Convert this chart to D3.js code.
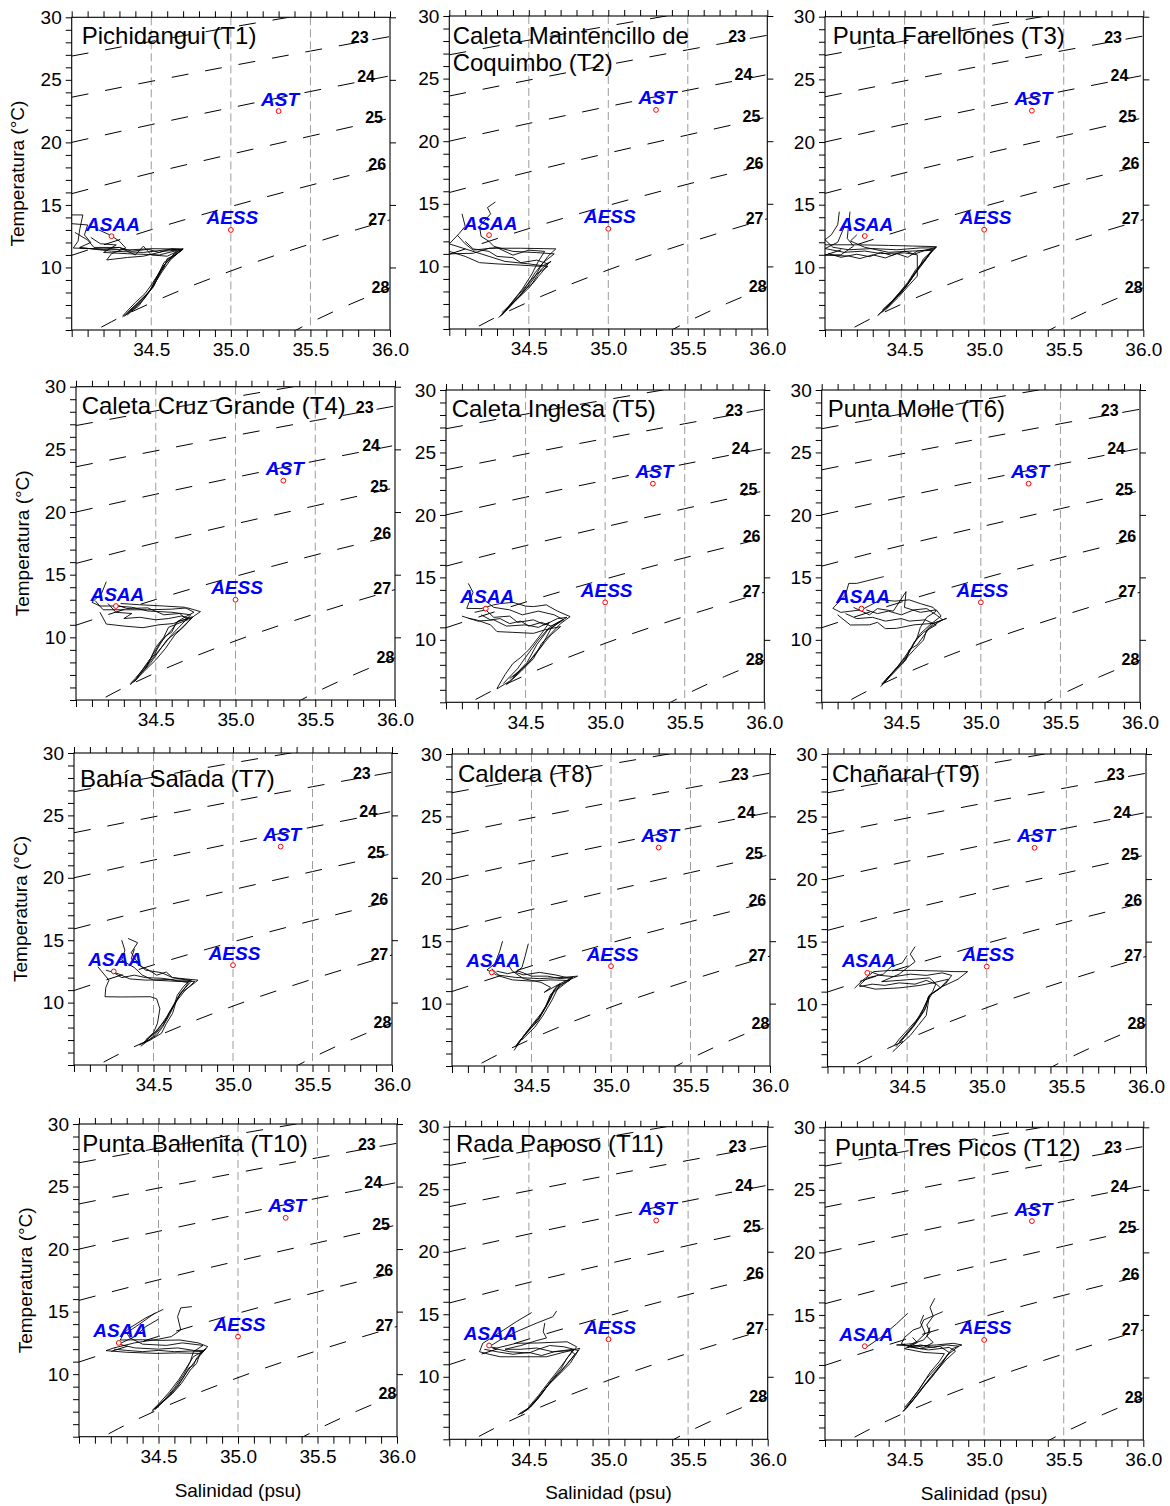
<!DOCTYPE html>
<html><head><meta charset="utf-8">
<script src="https://cdn.jsdelivr.net/npm/d3@7"></script>
<style>
body{margin:0;background:#fff;}
svg{display:block;font-family:"Liberation Sans",Arial,Helvetica,sans-serif;}
</style></head><body>
<svg id="chart" width="1170" height="1506"></svg>
<script>
// ---------------- DATA ----------------
const titles = ["Pichidangui (T1)", "Caleta Maintencillo de\nCoquimbo (T2)", "Punta Farellones (T3)",
  "Caleta Cruz Grande (T4)", "Caleta Inglesa (T5)", "Punta Molle (T6)",
  "Bahía Salada (T7)", "Caldera (T8)", "Chañaral (T9)",
  "Punta Ballenita (T10)", "Rada Paposo (T11)", "Punta Tres Picos (T12)"];
const salDomain = [34.0, 36.0];
const tempDomain = [5, 30];
const salTickLabels = [34.5, 35.0, 35.5, 36.0];
const tempTickLabels = [10, 15, 20, 25, 30];
const gridSal = [34.5, 35.0, 35.5];

// isopycnals (sigma-t), T (°C) read along salinity
const isoLevels = [22, 23, 24, 25, 26, 27, 28];
const isoSstd = [34.0, 34.5, 35.0, 35.5, 36.0];
const isoT22 = [26.90, 28.07, 29.20, 30.30, 31.40];
const isoT23 = [23.61, 24.88, 26.11, 27.30, 28.46];
const isoT24 = [20.00, 21.42, 22.77, 24.07, 25.32];
const isoT25 = [15.90, 17.54, 19.05, 20.50, 21.93];
const isoT26 = [10.97, 13.02, 14.87, 16.57, 18.15];
const isoS27 = [34.0, 34.25, 34.5, 35.0, 35.5, 36.0];
const isoT27 = [3.88, 5.66, 7.17, 9.72, 11.88, 13.81];
const isoS28 = [35.0, 35.25, 35.5, 35.75, 36.0];
const isoT28 = [1.60, 3.84, 5.585, 7.06, 8.37];
const isoLabelLevels = [23, 24, 25, 26, 27, 28];
const isoLabelSal = [35.81, 35.85, 35.90, 35.92, 35.92, 35.94];

// water masses
const wmNames = ["AST", "AESS", "ASAA"];
const wmSal = [35.3, 35.0, 34.25];
const wmTemp = [22.5, 13.0, 12.5];

// CTD profiles per station [S, T]
const profT1 = [
 [[34.00,14.20],[34.07,14.20],[34.06,13.60],[34.05,13.00],[34.04,12.10],[34.01,11.55],[34.15,11.50],[34.35,11.40],[34.50,11.50],[34.70,11.47],[34.64,10.90],[34.58,10.20],[34.54,9.40],[34.50,8.30],[34.42,6.90],[34.33,6.10]],
 [[34.00,13.50],[34.10,13.40],[34.08,12.60],[34.12,12.00],[34.05,11.60],[34.25,11.30],[34.45,11.20],[34.62,11.45],[34.69,11.40],[34.60,10.50],[34.56,9.80],[34.52,8.60],[34.45,7.40],[34.35,6.20]],
 [[34.17,13.00],[34.24,12.60],[34.30,12.10],[34.34,11.55],[34.25,11.10],[34.22,10.60],[34.35,10.80],[34.45,10.90],[34.58,11.30],[34.68,11.40],[34.58,10.40],[34.55,9.60],[34.49,8.10],[34.40,7.00],[34.32,6.05]],
 [[34.02,12.80],[34.10,12.20],[34.14,11.60],[34.30,11.60],[34.40,11.00],[34.45,11.70],[34.50,11.00],[34.60,10.90],[34.70,11.50],[34.62,10.60],[34.57,9.70],[34.53,8.90],[34.47,7.80],[34.37,6.50]],
 [[34.12,12.40],[34.18,11.90],[34.28,11.80],[34.20,11.20],[34.35,11.10],[34.55,11.00],[34.66,11.35],[34.59,10.30],[34.55,9.40],[34.51,8.40],[34.43,7.30],[34.34,6.20]],
 [[34.05,11.55],[34.20,11.45],[34.30,11.60],[34.38,11.30],[34.48,11.45],[34.55,11.20],[34.63,11.50],[34.70,11.45],[34.65,11.00],[34.60,10.70],[34.58,10.00],[34.53,9.20],[34.50,8.60],[34.46,7.90],[34.40,7.20],[34.34,6.40],[34.32,6.10]]
];
const profT2 = [
 [[34.00,11.00],[34.15,11.05],[34.25,11.45],[34.45,11.45],[34.67,11.40],[34.62,10.80],[34.58,10.10],[34.53,9.00],[34.47,8.00],[34.38,6.80],[34.31,5.90]],
 [[34.08,14.20],[34.10,13.20],[34.06,12.60],[34.00,11.80],[34.10,11.40],[34.20,11.00],[34.35,10.40],[34.50,10.20],[34.62,10.00],[34.55,9.40],[34.48,8.40],[34.40,7.20],[34.32,6.00]],
 [[34.29,15.15],[34.24,14.70],[34.26,14.20],[34.19,13.20],[34.20,12.40],[34.25,12.00],[34.28,11.60],[34.40,11.20],[34.55,11.10],[34.66,11.00],[34.59,10.30],[34.54,9.50],[34.50,8.70],[34.44,7.60],[34.35,6.40]],
 [[34.00,11.20],[34.10,10.80],[34.19,10.30],[34.30,10.20],[34.45,10.10],[34.58,10.00],[34.64,10.40],[34.58,9.80],[34.51,8.40],[34.42,7.30],[34.33,6.10]],
 [[34.05,12.50],[34.10,11.80],[34.15,11.30],[34.30,11.50],[34.40,10.90],[34.50,11.30],[34.60,11.20],[34.56,10.40],[34.52,9.40],[34.46,8.20],[34.36,6.60]],
 [[34.10,12.00],[34.15,11.40],[34.25,11.20],[34.30,10.80],[34.40,10.70],[34.45,10.30],[34.55,10.50],[34.62,10.20],[34.60,9.80],[34.56,9.20],[34.53,8.70],[34.48,8.20],[34.44,7.60],[34.38,6.90],[34.33,6.30]]
];
const profT3 = [
 [[34.00,11.80],[34.20,11.80],[34.40,11.75],[34.55,11.70],[34.70,11.65],[34.66,11.10],[34.60,10.05],[34.55,9.20],[34.51,8.46],[34.43,7.40],[34.335,6.20]],
 [[34.09,14.44],[34.08,13.40],[34.04,12.60],[34.00,12.20],[34.05,11.60],[34.15,11.40],[34.30,11.50],[34.45,11.40],[34.60,11.55],[34.69,11.55],[34.63,10.60],[34.57,9.80],[34.52,8.80],[34.45,7.70],[34.36,6.40]],
 [[34.157,14.44],[34.15,13.60],[34.14,12.30],[34.18,11.70],[34.10,11.00],[34.00,10.98],[34.15,10.90],[34.22,10.70],[34.30,11.00],[34.38,10.75],[34.45,11.10],[34.52,10.80],[34.58,11.30],[34.68,11.45],[34.62,10.40],[34.56,9.50],[34.50,8.30],[34.40,6.90],[34.33,6.15]],
 [[34.12,13.20],[34.08,12.00],[34.00,11.50],[34.12,11.20],[34.25,11.30],[34.35,11.10],[34.50,11.15],[34.58,11.00],[34.58,9.30],[34.53,8.60],[34.46,7.60],[34.38,6.60]],
 [[34.20,12.60],[34.16,12.10],[34.25,11.60],[34.40,11.20],[34.55,11.30],[34.67,11.35],[34.60,10.20],[34.54,9.00],[34.48,8.00],[34.39,6.80]],
 [[34.02,11.10],[34.10,10.80],[34.20,11.05],[34.28,10.85],[34.35,11.20],[34.42,10.95],[34.50,11.30],[34.56,11.05],[34.64,11.40],[34.70,11.60],[34.62,10.70],[34.59,10.00],[34.56,9.40],[34.52,8.70],[34.47,8.00],[34.42,7.30],[34.36,6.60]]
];
const profT4 = [
 [[34.12,12.93],[34.17,12.20],[34.30,12.20],[34.45,12.20],[34.60,12.25],[34.70,12.35],[34.78,12.05],[34.74,11.70],[34.65,10.60],[34.57,9.80],[34.52,8.90],[34.47,8.00],[34.40,7.00],[34.34,6.20]],
 [[34.19,14.44],[34.16,13.50],[34.10,12.80],[34.15,12.50],[34.25,12.50],[34.35,12.40],[34.45,12.10],[34.60,12.00],[34.72,11.80],[34.66,11.00],[34.60,10.20],[34.55,9.40],[34.49,8.50],[34.43,7.50],[34.37,6.50]],
 [[34.15,12.00],[34.19,11.06],[34.30,10.90],[34.42,10.77],[34.52,11.00],[34.61,11.10],[34.73,11.65],[34.68,10.90],[34.62,10.20],[34.56,9.10],[34.50,8.20],[34.42,7.20],[34.36,6.40]],
 [[34.20,12.70],[34.25,12.00],[34.35,11.90],[34.30,11.50],[34.40,11.60],[34.50,11.40],[34.58,11.50],[34.66,11.70],[34.72,11.50],[34.64,11.30],[34.60,10.60],[34.53,9.60],[34.48,8.60],[34.44,7.60]],
 [[34.25,12.60],[34.32,12.30],[34.45,12.35],[34.55,11.80],[34.65,11.90],[34.70,11.40],[34.58,10.80],[34.55,10.00],[34.50,9.20],[34.46,8.10],[34.38,6.80]],
 [[34.28,12.70],[34.40,12.60],[34.55,12.50],[34.68,12.40],[34.74,12.00],[34.68,11.60],[34.63,11.20],[34.60,10.40],[34.56,10.10],[34.52,9.30],[34.49,8.60],[34.46,8.20],[34.41,7.30],[34.37,6.70],[34.34,6.30]]
];
const profT5 = [
 [[34.14,14.52],[34.17,13.80],[34.13,12.52],[34.22,12.50],[34.30,12.80],[34.34,12.90],[34.42,13.00],[34.50,12.70],[34.55,12.66],[34.63,12.80],[34.70,12.30],[34.78,11.86],[34.72,11.30],[34.66,10.50],[34.60,9.70],[34.55,8.50],[34.47,7.46],[34.38,6.40]],
 [[34.14,11.72],[34.19,11.60],[34.28,11.20],[34.32,10.66],[34.42,10.60],[34.55,10.52],[34.62,10.80],[34.72,11.06],[34.66,10.40],[34.62,9.80],[34.56,8.80],[34.49,7.80],[34.40,6.70],[34.32,6.07]],
 [[34.18,12.20],[34.25,12.40],[34.30,11.80],[34.40,11.90],[34.45,11.40],[34.55,11.60],[34.62,11.20],[34.70,11.70],[34.76,11.80],[34.65,11.00],[34.58,10.00],[34.54,9.30],[34.50,8.60],[34.45,7.70],[34.36,6.50]],
 [[34.10,11.90],[34.20,11.50],[34.30,11.60],[34.38,11.10],[34.50,11.20],[34.58,11.00],[34.65,11.40],[34.60,10.50],[34.52,9.20],[34.47,8.60],[34.42,8.10],[34.37,7.20],[34.32,6.10]],
 [[34.24,13.20],[34.30,12.60],[34.40,12.40],[34.48,12.00],[34.58,12.30],[34.68,12.00],[34.74,11.60],[34.64,10.80],[34.57,9.60],[34.51,8.20],[34.42,7.00]],
 [[34.22,12.00],[34.28,11.60],[34.34,11.70],[34.40,11.30],[34.47,11.50],[34.52,11.10],[34.60,11.40],[34.66,11.10],[34.72,11.50],[34.66,10.90],[34.63,10.20],[34.60,9.50],[34.56,8.90],[34.52,8.20],[34.46,7.50],[34.40,6.90]]
];
const profT6 = [
 [[34.39,15.06],[34.22,14.52],[34.17,14.52],[34.15,13.60],[34.07,12.52],[34.12,12.20],[34.25,12.40],[34.37,13.20],[34.46,13.10],[34.55,13.20],[34.62,12.90],[34.70,12.60],[34.72,12.30],[34.66,11.80],[34.62,11.00],[34.60,10.20],[34.55,9.00],[34.51,8.12],[34.43,7.06],[34.37,6.25]],
 [[34.10,12.00],[34.18,11.19],[34.30,11.20],[34.35,11.40],[34.40,10.90],[34.47,10.92],[34.58,11.20],[34.70,11.32],[34.785,11.72],[34.70,11.30],[34.66,10.80],[34.64,9.99],[34.58,9.20],[34.53,8.50],[34.46,7.60],[34.39,6.60]],
 [[34.20,12.60],[34.30,12.00],[34.35,12.50],[34.45,12.30],[34.53,13.86],[34.52,12.60],[34.62,12.20],[34.72,12.40],[34.75,11.90],[34.68,11.20],[34.62,10.50],[34.57,9.50],[34.52,8.60],[34.45,7.40],[34.38,6.40]],
 [[34.15,12.10],[34.22,11.70],[34.32,11.80],[34.40,11.50],[34.50,11.70],[34.55,11.50],[34.65,11.60],[34.72,11.20],[34.64,10.60],[34.58,9.80],[34.54,8.80],[34.48,7.90],[34.41,6.90]],
 [[34.28,12.40],[34.35,12.10],[34.42,12.30],[34.50,12.00],[34.58,12.40],[34.66,12.50],[34.72,12.00],[34.76,11.60],[34.68,11.00],[34.64,10.30],[34.60,9.60],[34.55,9.20],[34.53,8.40],[34.48,7.80],[34.43,7.20],[34.38,6.50]]
];
const profT7 = [
 [[34.34,15.14],[34.40,14.80],[34.36,14.00],[34.40,13.20],[34.45,12.60],[34.55,12.40],[34.62,12.00],[34.70,11.90],[34.78,11.80],[34.72,11.20],[34.667,10.74],[34.64,10.00],[34.62,9.14],[34.58,8.30],[34.55,7.54],[34.48,7.00],[34.41,6.60]],
 [[34.30,15.00],[34.32,14.20],[34.30,13.40],[34.38,12.80],[34.43,12.20],[34.50,11.80],[34.65,11.70],[34.76,11.70],[34.70,11.00],[34.65,10.20],[34.61,9.40],[34.56,8.20],[34.50,7.30],[34.42,6.50]],
 [[34.15,12.87],[34.22,11.80],[34.20,11.20],[34.195,10.47],[34.30,10.45],[34.48,10.47],[34.52,10.30],[34.54,9.50],[34.525,8.34],[34.50,7.60],[34.45,7.00]],
 [[34.38,14.30],[34.36,13.50],[34.42,12.90],[34.47,12.60],[34.52,12.20],[34.58,12.45],[34.62,12.00],[34.74,11.75],[34.68,10.90],[34.63,9.90],[34.58,8.80],[34.52,7.70],[34.44,6.80]],
 [[34.20,12.60],[34.28,12.30],[34.35,11.90],[34.45,11.80],[34.60,11.85],[34.72,11.60],[34.66,10.50],[34.62,9.60],[34.57,8.50],[34.50,7.50],[34.43,6.70]],
 [[34.25,12.40],[34.30,12.00],[34.38,12.20],[34.45,12.00],[34.55,11.95],[34.64,11.80],[34.73,11.80],[34.69,11.30],[34.65,10.60],[34.63,9.80],[34.60,9.00],[34.56,8.10],[34.52,7.40],[34.46,6.90]]
];
const profT8 = [
 [[34.318,15.00],[34.30,14.20],[34.27,13.20],[34.22,12.70],[34.28,12.30],[34.40,12.10],[34.55,12.00],[34.70,12.10],[34.79,12.20],[34.72,11.80],[34.66,11.20],[34.62,10.75],[34.59,9.80],[34.55,8.90],[34.50,8.20],[34.46,7.57],[34.39,6.24]],
 [[34.48,14.80],[34.46,13.80],[34.44,12.90],[34.40,12.50],[34.45,12.30],[34.55,12.50],[34.65,12.30],[34.75,12.00],[34.70,11.50],[34.64,10.90],[34.60,10.00],[34.56,9.20],[34.51,8.40],[34.45,7.40],[34.40,6.50]],
 [[34.25,12.80],[34.30,12.20],[34.38,11.90],[34.50,11.80],[34.62,11.90],[34.74,11.85],[34.66,11.40],[34.62,10.60],[34.58,9.50],[34.54,8.60],[34.48,7.80],[34.42,6.90]],
 [[34.35,13.20],[34.38,12.60],[34.45,12.00],[34.56,11.70],[34.62,11.30],[34.58,10.90],[34.68,11.60],[34.63,10.30],[34.57,9.00],[34.52,8.10],[34.44,7.10]],
 [[34.28,12.60],[34.35,12.40],[34.42,12.60],[34.50,12.20],[34.60,12.20],[34.68,12.00],[34.76,12.10],[34.68,11.60],[34.64,11.10],[34.62,10.40],[34.59,9.70],[34.56,9.10],[34.52,8.40],[34.48,7.80],[34.43,7.10],[34.40,6.60]]
];
const profT9 = [
 [[34.17,11.28],[34.22,11.90],[34.29,12.60],[34.40,12.70],[34.55,12.70],[34.70,12.65],[34.80,12.60],[34.88,12.60],[34.82,12.00],[34.72,11.40],[34.64,10.70],[34.63,9.90],[34.62,9.10],[34.57,8.30],[34.52,7.50],[34.46,6.80],[34.41,6.20]],
 [[34.55,14.60],[34.52,14.00],[34.55,13.40],[34.50,12.90],[34.45,12.40],[34.34,11.80],[34.45,11.90],[34.55,12.00],[34.64,12.10],[34.71,11.30],[34.64,10.70],[34.60,9.60],[34.55,8.50],[34.48,7.40],[34.43,6.60]],
 [[34.50,13.90],[34.47,13.30],[34.40,13.00],[34.35,12.40],[34.25,12.10],[34.20,11.50],[34.30,11.20],[34.45,11.30],[34.58,11.50],[34.66,11.70],[34.76,12.00],[34.70,11.20],[34.64,10.70],[34.61,9.50],[34.54,8.20],[34.45,7.00]],
 [[34.27,12.60],[34.33,12.30],[34.42,12.20],[34.52,12.40],[34.62,12.30],[34.72,12.50],[34.78,12.30],[34.74,11.60],[34.66,10.90],[34.62,10.10],[34.58,9.00],[34.52,7.90],[34.46,7.00]],
 [[34.20,11.40],[34.28,11.60],[34.36,11.50],[34.45,11.70],[34.55,11.60],[34.62,11.90],[34.68,11.60],[34.66,11.00],[34.63,10.50],[34.62,9.80],[34.59,9.20],[34.55,8.60],[34.50,7.90],[34.45,7.20],[34.42,6.70]]
];
const profT10 = [
 [[34.53,15.18],[34.42,14.50],[34.32,13.70],[34.28,13.26],[34.26,12.73],[34.40,12.75],[34.50,12.70],[34.635,12.73],[34.75,12.50],[34.81,12.20],[34.76,11.60],[34.74,10.86],[34.70,10.33],[34.645,9.27],[34.59,8.47],[34.53,7.80],[34.457,7.00]],
 [[34.71,15.40],[34.64,15.30],[34.62,14.60],[34.64,13.53],[34.58,13.00],[34.50,12.80],[34.35,12.50],[34.22,12.10],[34.17,11.88],[34.30,11.75],[34.49,11.66],[34.62,11.70],[34.76,11.66],[34.80,12.05],[34.74,11.20],[34.68,10.20],[34.62,9.10],[34.56,8.20],[34.48,7.20]],
 [[34.48,14.90],[34.38,14.00],[34.30,13.30],[34.32,12.90],[34.40,12.40],[34.55,12.30],[34.65,12.50],[34.78,12.30],[34.72,11.80],[34.70,11.00],[34.66,10.00],[34.60,8.90],[34.54,8.00],[34.47,7.20]],
 [[34.50,14.40],[34.42,13.80],[34.35,13.00],[34.25,12.40],[34.35,12.10],[34.50,12.00],[34.62,12.10],[34.72,11.90],[34.79,11.90],[34.72,11.40],[34.68,10.60],[34.63,9.60],[34.57,8.60],[34.50,7.60],[34.46,7.10]],
 [[34.22,12.00],[34.30,11.90],[34.40,11.80],[34.50,11.90],[34.60,11.80],[34.70,11.85],[34.78,11.80],[34.74,11.30],[34.72,10.70],[34.69,10.50],[34.66,9.80],[34.62,9.00],[34.57,8.30],[34.52,7.70],[34.48,7.20]]
];
const profT11 = [
 [[34.517,15.13],[34.42,14.40],[34.30,13.40],[34.21,12.68],[34.19,12.00],[34.25,11.80],[34.32,11.60],[34.45,11.60],[34.61,11.60],[34.70,11.90],[34.82,12.28],[34.78,11.50],[34.76,11.08],[34.675,10.00],[34.61,9.20],[34.55,8.14],[34.49,7.35],[34.43,6.95]],
 [[34.674,15.26],[34.65,14.80],[34.55,14.30],[34.42,13.60],[34.32,12.95],[34.25,12.40],[34.30,12.30],[34.42,12.68],[34.55,12.70],[34.74,12.80],[34.80,12.40],[34.74,11.50],[34.70,10.60],[34.64,9.70],[34.58,8.60],[34.52,7.70],[34.45,7.00]],
 [[34.60,14.30],[34.59,13.60],[34.61,13.10],[34.55,12.90],[34.45,12.50],[34.35,12.20],[34.45,12.20],[34.55,12.30],[34.65,12.00],[34.78,12.20],[34.73,11.30],[34.67,10.30],[34.62,9.50],[34.56,8.50],[34.50,7.60]],
 [[34.27,12.30],[34.38,12.00],[34.50,11.90],[34.56,12.20],[34.63,12.50],[34.72,12.40],[34.81,12.10],[34.75,11.20],[34.70,10.40],[34.63,9.50],[34.57,8.50],[34.51,7.60],[34.44,7.05]],
 [[34.22,12.20],[34.30,12.00],[34.40,11.80],[34.50,11.95],[34.58,11.70],[34.66,12.00],[34.76,12.10],[34.79,11.80],[34.74,11.00],[34.68,10.20],[34.64,9.60],[34.60,9.00],[34.56,8.40],[34.52,7.80],[34.47,7.20]]
];
const profT12 = [
 [[34.25,12.33],[34.35,13.20],[34.45,14.30],[34.52,15.13]],
 [[34.69,16.33],[34.66,15.60],[34.68,14.90],[34.64,14.20],[34.66,13.60],[34.62,13.00],[34.55,12.70],[34.45,12.60],[34.55,12.50],[34.70,12.60],[34.806,12.73],[34.86,12.60],[34.80,12.30],[34.76,11.66],[34.72,10.86],[34.67,10.00],[34.62,9.26],[34.555,8.20],[34.49,7.26]],
 [[34.74,15.26],[34.62,14.60],[34.60,14.00],[34.555,13.80],[34.50,13.20],[34.48,12.70],[34.55,12.40],[34.65,12.20],[34.78,12.40],[34.82,12.10],[34.76,11.40],[34.70,10.50],[34.64,9.60],[34.58,8.60],[34.51,7.50]],
 [[34.62,15.00],[34.60,14.40],[34.63,13.50],[34.58,12.90],[34.52,12.50],[34.60,12.30],[34.72,12.50],[34.78,12.00],[34.74,11.20],[34.68,10.30],[34.60,9.00],[34.54,8.00],[34.49,7.30]],
 [[34.66,14.00],[34.64,13.30],[34.68,12.80],[34.62,12.40],[34.55,12.60],[34.50,12.30],[34.62,12.00],[34.75,11.90],[34.72,11.30],[34.66,10.40],[34.61,9.40],[34.56,8.50],[34.50,7.40]],
 [[34.55,13.20],[34.58,12.80],[34.52,12.40],[34.60,12.60],[34.68,12.40],[34.76,12.60],[34.84,12.50],[34.78,11.90],[34.73,11.20],[34.68,10.50],[34.63,9.80],[34.59,9.00],[34.54,8.20],[34.50,7.60]]
];

// ---------------- LAYOUT ----------------
const panelBoxes = [
 [71.7,17.3,390,330],[449.3,16,767.3,329],[825,16.7,1143.3,330],
 [76,386.7,395,700],[446,390,764.3,702.3],[821.7,390,1140,702.3],
 [74,753,392,1065],[452,754,770,1066],[827.5,754,1146,1066.7],
 [79,1124,397,1436.7],[449.3,1126.7,767.7,1439.3],[825,1127.3,1143.3,1440]
];
const titleDx = [10,3.4,7.7,5.7,5.7,6,6,6,4.5,3.3,6.7,10];
const titleDy = [17.7,19,18.3,18.3,18.3,18.3,25,19.3,19.3,19.3,16.7,19.4];

const profiles = [profT1,profT2,profT3,profT4,profT5,profT6,profT7,profT8,profT9,profT10,profT11,profT12];
const isoS = [isoSstd,isoSstd,isoSstd,isoSstd,isoSstd,isoS27,isoS28];
const isoT = [isoT22,isoT23,isoT24,isoT25,isoT26,isoT27,isoT28];

const svg = d3.select("#chart");
const defs = svg.append("defs");

panelBoxes.forEach((b, i) => {
  const [L, T, R, B] = b;
  const x = d3.scaleLinear().domain(salDomain).range([L, R]);
  const y = d3.scaleLinear().domain(tempDomain).range([B, T]);
  const g = svg.append("g");
  defs.append("clipPath").attr("id", "clip" + i)
    .append("rect").attr("x", L).attr("y", T).attr("width", R - L).attr("height", B - T);
  const inner = g.append("g").attr("clip-path", `url(#clip${i})`);

  // vertical gray dashed grid
  inner.selectAll("line.vg").data(gridSal).join("line")
    .attr("x1", d => x(d)).attr("x2", d => x(d)).attr("y1", T).attr("y2", B)
    .attr("stroke", "#9c9c9c").attr("stroke-width", 1).attr("stroke-dasharray", "8,4");

  // isopycnals
  const iline = d3.line().x(d => x(d[0])).y(d => y(d[1])).curve(d3.curveMonotoneX);
  isoLevels.forEach((lev, k) => {
    const pts = isoS[k].map((s, j) => [s, isoT[k][j]]);
    inner.append("path").attr("d", iline(pts)).attr("fill", "none")
      .attr("stroke", "#000").attr("stroke-width", 1).attr("stroke-dasharray", "17,17");
  });

  // profiles
  const pline = d3.line().x(d => x(d[0])).y(d => y(d[1]));
  inner.selectAll("path.prof").data(profiles[i]).join("path")
    .attr("d", pline).attr("fill", "none").attr("stroke", "#000")
    .attr("stroke-width", 0.9).attr("stroke-linejoin", "round");

  // isopycnal labels
  isoLabelLevels.forEach((lev, k) => {
    const idx = isoLevels.indexOf(lev);
    const interp = d3.scaleLinear().domain(isoS[idx]).range(isoT[idx]);
    const s = isoLabelSal[k];
    g.append("text").attr("x", x(s)).attr("y", y(interp(s)) - 4.5)
      .attr("text-anchor", "middle").attr("dominant-baseline", "central")
      .attr("font-size", 16).attr("font-weight", "bold").attr("fill", "#000").text(lev);
  });

  // water masses
  wmNames.forEach((n, k) => {
    g.append("circle").attr("cx", x(wmSal[k])).attr("cy", y(wmTemp[k])).attr("r", 2.4)
      .attr("fill", "#fff").attr("stroke", "#ff0000").attr("stroke-width", 1);
    g.append("text").attr("x", x(wmSal[k]) + 1.5).attr("y", y(wmTemp[k]) - 5.5)
      .attr("text-anchor", "middle").attr("font-size", 19).attr("font-weight", "bold")
      .attr("font-style", "italic").attr("fill", "#0000ff").text(n);
  });

  // title
  const lines = titles[i].split("\n");
  const tt = g.append("text").attr("x", L + titleDx[i]).attr("y", T + titleDy[i])
    .attr("font-size", 24).attr("fill", "#000").attr("dominant-baseline", "central");
  lines.forEach((ln, j) => tt.append("tspan").attr("x", L + titleDx[i]).attr("dy", j === 0 ? 0 : 26.7).text(ln));

  // frame
  g.append("rect").attr("x", L).attr("y", T).attr("width", R - L).attr("height", B - T)
    .attr("fill", "none").attr("stroke", "#000").attr("stroke-width", 1.1);

  // axes
  const sTicks = d3.range(0, 21).map(k => +(34 + k * 0.1).toFixed(1));
  const tTicks = d3.range(5, 31);
  const fmtS = d => salTickLabels.some(v => Math.abs(v - d) < 1e-6) ? d.toFixed(1) : "";
  const fmtT = d => tempTickLabels.includes(d) ? String(d) : "";

  const axB = g.append("g").attr("transform", `translate(0,${B})`)
    .call(d3.axisBottom(x).tickValues(sTicks).tickSize(7).tickSizeOuter(0).tickPadding(6).tickFormat(fmtS));
  const axT = g.append("g").attr("transform", `translate(0,${T})`)
    .call(d3.axisTop(x).tickValues(sTicks).tickSize(6).tickSizeOuter(0).tickFormat(""));
  const axL = g.append("g").attr("transform", `translate(${L},0)`)
    .call(d3.axisLeft(y).tickValues(tTicks).tickSize(6).tickSizeOuter(0).tickPadding(4).tickFormat(fmtT));
  const axR = g.append("g").attr("transform", `translate(${R},0)`)
    .call(d3.axisRight(y).tickValues(tempTickLabels).tickSize(6).tickSizeOuter(0).tickFormat(""));
  [axB, axT, axL, axR].forEach(a => {
    a.select(".domain").remove();
    a.selectAll("line").attr("stroke", "#000");
    a.selectAll("text").attr("font-size", 19).attr("fill", "#000")
      .attr("font-family", '"Liberation Sans",Arial,sans-serif');
  });

  // axis titles
  if (i % 3 === 0) {
    g.append("text").attr("transform", `translate(${L - 54},${(T + B) / 2}) rotate(-90)`)
      .attr("text-anchor", "middle").attr("dominant-baseline", "central")
      .attr("font-size", 19).attr("fill", "#000").text("Temperatura (°C)");
  }
  if (i >= 9) {
    g.append("text").attr("x", (L + R) / 2).attr("y", B + 60)
      .attr("text-anchor", "middle").attr("font-size", 19).attr("fill", "#000").text("Salinidad (psu)");
  }
});
</script>
</body></html>
